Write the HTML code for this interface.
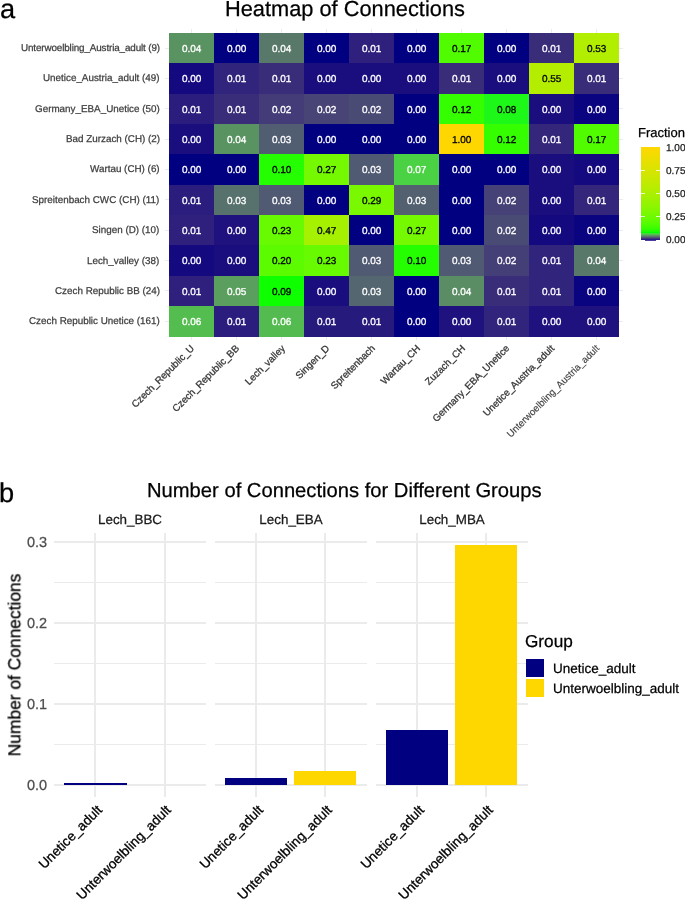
<!DOCTYPE html><html><head><meta charset="utf-8"><style>
*{margin:0;padding:0;box-sizing:border-box}
html,body{width:685px;height:899px;background:#fff;overflow:hidden;position:relative;font-family:"Liberation Sans", sans-serif;text-rendering:geometricPrecision}
.t{position:absolute;white-space:nowrap;line-height:1;will-change:transform;-webkit-text-stroke:0.25px currentColor}
.g{position:absolute;background:#ebebeb}
.r{position:absolute;white-space:nowrap;line-height:1;-webkit-text-stroke:0.3px currentColor;transform-origin:100% 0;transform:rotate(-45deg);filter:grayscale(1)}
.c{position:absolute;display:flex;align-items:center;justify-content:center;font-size:10px;color:#fff;will-change:transform;-webkit-text-stroke:0.3px currentColor;padding-top:2px}
</style></head><body>
<div class="t" style="left:0.10px;top:-5px;font-size:27.20px;color:#000;">a</div>
<div class="t" style="left:224.60px;top:-2px;font-size:21.80px;color:#000;">Heatmap of Connections</div>
<div class="g" style="left:191.00px;top:29.00px;width:1px;height:311.00px"></div>
<div class="g" style="left:236.00px;top:29.00px;width:1px;height:311.00px"></div>
<div class="g" style="left:281.00px;top:29.00px;width:1px;height:311.00px"></div>
<div class="g" style="left:326.00px;top:29.00px;width:1px;height:311.00px"></div>
<div class="g" style="left:371.00px;top:29.00px;width:1px;height:311.00px"></div>
<div class="g" style="left:416.00px;top:29.00px;width:1px;height:311.00px"></div>
<div class="g" style="left:461.00px;top:29.00px;width:1px;height:311.00px"></div>
<div class="g" style="left:506.00px;top:29.00px;width:1px;height:311.00px"></div>
<div class="g" style="left:551.00px;top:29.00px;width:1px;height:311.00px"></div>
<div class="g" style="left:596.00px;top:29.00px;width:1px;height:311.00px"></div>
<div class="g" style="left:164.50px;top:47.67px;width:458.50px;height:1px"></div>
<div class="g" style="left:164.50px;top:78.03px;width:458.50px;height:1px"></div>
<div class="g" style="left:164.50px;top:108.38px;width:458.50px;height:1px"></div>
<div class="g" style="left:164.50px;top:138.73px;width:458.50px;height:1px"></div>
<div class="g" style="left:164.50px;top:169.08px;width:458.50px;height:1px"></div>
<div class="g" style="left:164.50px;top:199.43px;width:458.50px;height:1px"></div>
<div class="g" style="left:164.50px;top:229.78px;width:458.50px;height:1px"></div>
<div class="g" style="left:164.50px;top:260.12px;width:458.50px;height:1px"></div>
<div class="g" style="left:164.50px;top:290.48px;width:458.50px;height:1px"></div>
<div class="g" style="left:164.50px;top:320.82px;width:458.50px;height:1px"></div>
<div class="c" style="left:169.00px;top:33.00px;width:45.30px;height:30.65px;background:#5a9362;color:#fff">0.04</div>
<div class="c" style="left:214.00px;top:33.00px;width:45.30px;height:30.65px;background:#000080;color:#fff">0.00</div>
<div class="c" style="left:259.00px;top:33.00px;width:45.30px;height:30.65px;background:#58786a;color:#fff">0.04</div>
<div class="c" style="left:304.00px;top:33.00px;width:45.30px;height:30.65px;background:#000080;color:#fff">0.00</div>
<div class="c" style="left:349.00px;top:33.00px;width:45.30px;height:30.65px;background:#2e207c;color:#fff">0.01</div>
<div class="c" style="left:394.00px;top:33.00px;width:45.30px;height:30.65px;background:#000080;color:#fff">0.00</div>
<div class="c" style="left:439.00px;top:33.00px;width:45.30px;height:30.65px;background:#51fc00;color:#000">0.17</div>
<div class="c" style="left:484.00px;top:33.00px;width:45.30px;height:30.65px;background:#000080;color:#fff">0.00</div>
<div class="c" style="left:529.00px;top:33.00px;width:45.30px;height:30.65px;background:#392d7a;color:#fff">0.01</div>
<div class="c" style="left:574.00px;top:33.00px;width:45.30px;height:30.65px;background:#b1ee00;color:#000">0.53</div>
<div class="c" style="left:169.00px;top:63.35px;width:45.30px;height:30.65px;background:#14097f;color:#fff">0.00</div>
<div class="c" style="left:214.00px;top:63.35px;width:45.30px;height:30.65px;background:#31247c;color:#fff">0.01</div>
<div class="c" style="left:259.00px;top:63.35px;width:45.30px;height:30.65px;background:#392d7a;color:#fff">0.01</div>
<div class="c" style="left:304.00px;top:63.35px;width:45.30px;height:30.65px;background:#1a0e7f;color:#fff">0.00</div>
<div class="c" style="left:349.00px;top:63.35px;width:45.30px;height:30.65px;background:#1a0e7f;color:#fff">0.00</div>
<div class="c" style="left:394.00px;top:63.35px;width:45.30px;height:30.65px;background:#1a0e7f;color:#fff">0.00</div>
<div class="c" style="left:439.00px;top:63.35px;width:45.30px;height:30.65px;background:#392d7a;color:#fff">0.01</div>
<div class="c" style="left:484.00px;top:63.35px;width:45.30px;height:30.65px;background:#1a0e7f;color:#fff">0.00</div>
<div class="c" style="left:529.00px;top:63.35px;width:45.30px;height:30.65px;background:#b5ed00;color:#000">0.55</div>
<div class="c" style="left:574.00px;top:63.35px;width:45.30px;height:30.65px;background:#392d7a;color:#fff">0.01</div>
<div class="c" style="left:169.00px;top:93.70px;width:45.30px;height:30.65px;background:#2b1d7d;color:#fff">0.01</div>
<div class="c" style="left:214.00px;top:93.70px;width:45.30px;height:30.65px;background:#392d7a;color:#fff">0.01</div>
<div class="c" style="left:259.00px;top:93.70px;width:45.30px;height:30.65px;background:#433c78;color:#fff">0.02</div>
<div class="c" style="left:304.00px;top:93.70px;width:45.30px;height:30.65px;background:#484576;color:#fff">0.02</div>
<div class="c" style="left:349.00px;top:93.70px;width:45.30px;height:30.65px;background:#4a4b75;color:#fff">0.02</div>
<div class="c" style="left:394.00px;top:93.70px;width:45.30px;height:30.65px;background:#000080;color:#fff">0.00</div>
<div class="c" style="left:439.00px;top:93.70px;width:45.30px;height:30.65px;background:#35fe00;color:#000">0.12</div>
<div class="c" style="left:484.00px;top:93.70px;width:45.30px;height:30.65px;background:#1ef818;color:#000">0.08</div>
<div class="c" style="left:529.00px;top:93.70px;width:45.30px;height:30.65px;background:#1a0e7f;color:#fff">0.00</div>
<div class="c" style="left:574.00px;top:93.70px;width:45.30px;height:30.65px;background:#0b0480;color:#fff">0.00</div>
<div class="c" style="left:169.00px;top:124.05px;width:45.30px;height:30.65px;background:#1a0e7f;color:#fff">0.00</div>
<div class="c" style="left:214.00px;top:124.05px;width:45.30px;height:30.65px;background:#5a9362;color:#fff">0.04</div>
<div class="c" style="left:259.00px;top:124.05px;width:45.30px;height:30.65px;background:#515d71;color:#fff">0.03</div>
<div class="c" style="left:304.00px;top:124.05px;width:45.30px;height:30.65px;background:#000080;color:#fff">0.00</div>
<div class="c" style="left:349.00px;top:124.05px;width:45.30px;height:30.65px;background:#000080;color:#fff">0.00</div>
<div class="c" style="left:394.00px;top:124.05px;width:45.30px;height:30.65px;background:#000080;color:#fff">0.00</div>
<div class="c" style="left:439.00px;top:124.05px;width:45.30px;height:30.65px;background:#ffd700;color:#000">1.00</div>
<div class="c" style="left:484.00px;top:124.05px;width:45.30px;height:30.65px;background:#35fe00;color:#000">0.12</div>
<div class="c" style="left:529.00px;top:124.05px;width:45.30px;height:30.65px;background:#34277b;color:#fff">0.01</div>
<div class="c" style="left:574.00px;top:124.05px;width:45.30px;height:30.65px;background:#51fc00;color:#000">0.17</div>
<div class="c" style="left:169.00px;top:154.40px;width:45.30px;height:30.65px;background:#000080;color:#fff">0.00</div>
<div class="c" style="left:214.00px;top:154.40px;width:45.30px;height:30.65px;background:#000080;color:#fff">0.00</div>
<div class="c" style="left:259.00px;top:154.40px;width:45.30px;height:30.65px;background:#24fe00;color:#000">0.10</div>
<div class="c" style="left:304.00px;top:154.40px;width:45.30px;height:30.65px;background:#74f900;color:#000">0.27</div>
<div class="c" style="left:349.00px;top:154.40px;width:45.30px;height:30.65px;background:#505a72;color:#fff">0.03</div>
<div class="c" style="left:394.00px;top:154.40px;width:45.30px;height:30.65px;background:#4bd144;color:#fff">0.07</div>
<div class="c" style="left:439.00px;top:154.40px;width:45.30px;height:30.65px;background:#000080;color:#fff">0.00</div>
<div class="c" style="left:484.00px;top:154.40px;width:45.30px;height:30.65px;background:#000080;color:#fff">0.00</div>
<div class="c" style="left:529.00px;top:154.40px;width:45.30px;height:30.65px;background:#1a0e7f;color:#fff">0.00</div>
<div class="c" style="left:574.00px;top:154.40px;width:45.30px;height:30.65px;background:#14097f;color:#fff">0.00</div>
<div class="c" style="left:169.00px;top:184.75px;width:45.30px;height:30.65px;background:#2b1d7d;color:#fff">0.01</div>
<div class="c" style="left:214.00px;top:184.75px;width:45.30px;height:30.65px;background:#57726c;color:#fff">0.03</div>
<div class="c" style="left:259.00px;top:184.75px;width:45.30px;height:30.65px;background:#505a72;color:#fff">0.03</div>
<div class="c" style="left:304.00px;top:184.75px;width:45.30px;height:30.65px;background:#000080;color:#fff">0.00</div>
<div class="c" style="left:349.00px;top:184.75px;width:45.30px;height:30.65px;background:#7af800;color:#000">0.29</div>
<div class="c" style="left:394.00px;top:184.75px;width:45.30px;height:30.65px;background:#526070;color:#fff">0.03</div>
<div class="c" style="left:439.00px;top:184.75px;width:45.30px;height:30.65px;background:#000080;color:#fff">0.00</div>
<div class="c" style="left:484.00px;top:184.75px;width:45.30px;height:30.65px;background:#464277;color:#fff">0.02</div>
<div class="c" style="left:529.00px;top:184.75px;width:45.30px;height:30.65px;background:#1a0e7f;color:#fff">0.00</div>
<div class="c" style="left:574.00px;top:184.75px;width:45.30px;height:30.65px;background:#34277b;color:#fff">0.01</div>
<div class="c" style="left:169.00px;top:215.10px;width:45.30px;height:30.65px;background:#2e207c;color:#fff">0.01</div>
<div class="c" style="left:214.00px;top:215.10px;width:45.30px;height:30.65px;background:#1f127e;color:#fff">0.00</div>
<div class="c" style="left:259.00px;top:215.10px;width:45.30px;height:30.65px;background:#68fa00;color:#000">0.23</div>
<div class="c" style="left:304.00px;top:215.10px;width:45.30px;height:30.65px;background:#a5f100;color:#000">0.47</div>
<div class="c" style="left:349.00px;top:215.10px;width:45.30px;height:30.65px;background:#000080;color:#fff">0.00</div>
<div class="c" style="left:394.00px;top:215.10px;width:45.30px;height:30.65px;background:#74f900;color:#000">0.27</div>
<div class="c" style="left:439.00px;top:215.10px;width:45.30px;height:30.65px;background:#000080;color:#fff">0.00</div>
<div class="c" style="left:484.00px;top:215.10px;width:45.30px;height:30.65px;background:#4a4b75;color:#fff">0.02</div>
<div class="c" style="left:529.00px;top:215.10px;width:45.30px;height:30.65px;background:#14097f;color:#fff">0.00</div>
<div class="c" style="left:574.00px;top:215.10px;width:45.30px;height:30.65px;background:#0b0480;color:#fff">0.00</div>
<div class="c" style="left:169.00px;top:245.45px;width:45.30px;height:30.65px;background:#14097f;color:#fff">0.00</div>
<div class="c" style="left:214.00px;top:245.45px;width:45.30px;height:30.65px;background:#1a0e7f;color:#fff">0.00</div>
<div class="c" style="left:259.00px;top:245.45px;width:45.30px;height:30.65px;background:#5dfb00;color:#000">0.20</div>
<div class="c" style="left:304.00px;top:245.45px;width:45.30px;height:30.65px;background:#68fa00;color:#000">0.23</div>
<div class="c" style="left:349.00px;top:245.45px;width:45.30px;height:30.65px;background:#505a72;color:#fff">0.03</div>
<div class="c" style="left:394.00px;top:245.45px;width:45.30px;height:30.65px;background:#24fe00;color:#000">0.10</div>
<div class="c" style="left:439.00px;top:245.45px;width:45.30px;height:30.65px;background:#505a72;color:#fff">0.03</div>
<div class="c" style="left:484.00px;top:245.45px;width:45.30px;height:30.65px;background:#443f77;color:#fff">0.02</div>
<div class="c" style="left:529.00px;top:245.45px;width:45.30px;height:30.65px;background:#31247c;color:#fff">0.01</div>
<div class="c" style="left:574.00px;top:245.45px;width:45.30px;height:30.65px;background:#58786a;color:#fff">0.04</div>
<div class="c" style="left:169.00px;top:275.80px;width:45.30px;height:30.65px;background:#2e207c;color:#fff">0.01</div>
<div class="c" style="left:214.00px;top:275.80px;width:45.30px;height:30.65px;background:#5a9f5d;color:#fff">0.05</div>
<div class="c" style="left:259.00px;top:275.80px;width:45.30px;height:30.65px;background:#0eff00;color:#000">0.09</div>
<div class="c" style="left:304.00px;top:275.80px;width:45.30px;height:30.65px;background:#1a0e7f;color:#fff">0.00</div>
<div class="c" style="left:349.00px;top:275.80px;width:45.30px;height:30.65px;background:#54666f;color:#fff">0.03</div>
<div class="c" style="left:394.00px;top:275.80px;width:45.30px;height:30.65px;background:#000080;color:#fff">0.00</div>
<div class="c" style="left:439.00px;top:275.80px;width:45.30px;height:30.65px;background:#5a8d64;color:#fff">0.04</div>
<div class="c" style="left:484.00px;top:275.80px;width:45.30px;height:30.65px;background:#392d7a;color:#fff">0.01</div>
<div class="c" style="left:529.00px;top:275.80px;width:45.30px;height:30.65px;background:#31247c;color:#fff">0.01</div>
<div class="c" style="left:574.00px;top:275.80px;width:45.30px;height:30.65px;background:#0b0480;color:#fff">0.00</div>
<div class="c" style="left:169.00px;top:306.15px;width:45.30px;height:30.65px;background:#53be4f;color:#fff">0.06</div>
<div class="c" style="left:214.00px;top:306.15px;width:45.30px;height:30.65px;background:#2b1d7d;color:#fff">0.01</div>
<div class="c" style="left:259.00px;top:306.15px;width:45.30px;height:30.65px;background:#54bb51;color:#fff">0.06</div>
<div class="c" style="left:304.00px;top:306.15px;width:45.30px;height:30.65px;background:#271a7d;color:#fff">0.01</div>
<div class="c" style="left:349.00px;top:306.15px;width:45.30px;height:30.65px;background:#271a7d;color:#fff">0.01</div>
<div class="c" style="left:394.00px;top:306.15px;width:45.30px;height:30.65px;background:#000080;color:#fff">0.00</div>
<div class="c" style="left:439.00px;top:306.15px;width:45.30px;height:30.65px;background:#1f127e;color:#fff">0.00</div>
<div class="c" style="left:484.00px;top:306.15px;width:45.30px;height:30.65px;background:#31247c;color:#fff">0.01</div>
<div class="c" style="left:529.00px;top:306.15px;width:45.30px;height:30.65px;background:#1f127e;color:#fff">0.00</div>
<div class="c" style="left:574.00px;top:306.15px;width:45.30px;height:30.65px;background:#1f127e;color:#fff">0.00</div>
<div class="t" style="right:525.40px;top:44px;font-size:9.85px;color:#3d3d3d;letter-spacing:-0.12px">Unterwoelbling_Austria_adult (9)</div>
<div class="t" style="right:525.40px;top:74px;font-size:9.85px;color:#3d3d3d;">Unetice_Austria_adult (49)</div>
<div class="t" style="right:525.40px;top:105px;font-size:9.85px;color:#3d3d3d;">Germany_EBA_Unetice (50)</div>
<div class="t" style="right:525.40px;top:135px;font-size:9.85px;color:#3d3d3d;">Bad Zurzach (CH) (2)</div>
<div class="t" style="right:525.40px;top:165px;font-size:9.85px;color:#3d3d3d;">Wartau (CH) (6)</div>
<div class="t" style="right:525.40px;top:196px;font-size:9.85px;color:#3d3d3d;">Spreitenbach CWC (CH) (11)</div>
<div class="t" style="right:525.40px;top:226px;font-size:9.85px;color:#3d3d3d;">Singen (D) (10)</div>
<div class="t" style="right:525.40px;top:257px;font-size:9.85px;color:#3d3d3d;">Lech_valley (38)</div>
<div class="t" style="right:525.40px;top:287px;font-size:9.85px;color:#3d3d3d;">Czech Republic BB (24)</div>
<div class="t" style="right:525.40px;top:317px;font-size:9.85px;color:#3d3d3d;">Czech Republic Unetice (161)</div>
<div class="r" style="right:494.70px;top:344.40px;font-size:9.80px;color:#383838;">Czech_Republic_U</div>
<div class="r" style="right:449.70px;top:344.40px;font-size:9.80px;color:#383838;">Czech_Republic_BB</div>
<div class="r" style="right:404.70px;top:344.40px;font-size:9.80px;color:#383838;">Lech_valley</div>
<div class="r" style="right:359.70px;top:344.40px;font-size:9.80px;color:#383838;">Singen_D</div>
<div class="r" style="right:314.70px;top:344.40px;font-size:9.80px;color:#383838;">Spreitenbach</div>
<div class="r" style="right:269.70px;top:344.40px;font-size:9.80px;color:#383838;">Wartau_CH</div>
<div class="r" style="right:224.70px;top:344.40px;font-size:9.80px;color:#383838;">Zuzach_CH</div>
<div class="r" style="right:179.70px;top:344.40px;font-size:9.80px;color:#383838;">Germany_EBA_Unetice</div>
<div class="r" style="right:134.70px;top:344.40px;font-size:9.80px;color:#383838;">Unetice_Austria_adult</div>
<div class="r" style="right:89.70px;top:344.40px;font-size:9.70px;color:#444444;-webkit-text-stroke:0.15px currentColor">Unterwoelbling_Austria_adult</div>
<div class="t" style="left:638.20px;top:126px;font-size:13.00px;color:#000;">Fraction</div>
<div style="position:absolute;left:641px;top:147.3px;width:19px;height:92.4px;background:linear-gradient(to top,#000080 0.0%,#34277b 1.0%,#484576 2.0%,#536370 3.0%,#598168 4.0%,#5a9f5d 5.0%,#53be4f 6.0%,#42de3a 7.0%,#00ff00 8.0%,#18ff00 9.0%,#24fe00 10.0%,#2dfe00 11.0%,#35fe00 12.0%,#3cfd00 13.0%,#42fd00 14.0%,#47fd00 15.0%,#4cfc00 16.0%,#51fc00 17.0%,#55fc00 18.0%,#59fb00 19.0%,#5dfb00 20.0%,#61fb00 21.0%,#64fa00 22.0%,#68fa00 23.0%,#6bfa00 24.0%,#6ef900 25.0%,#71f900 26.0%,#74f900 27.0%,#77f800 28.0%,#7af800 29.0%,#7df700 30.0%,#80f700 31.0%,#82f700 32.0%,#85f600 33.0%,#87f600 34.0%,#8af600 35.0%,#8cf500 36.0%,#8ff500 37.0%,#91f400 38.0%,#94f400 39.0%,#96f400 40.0%,#98f300 41.0%,#9af300 42.0%,#9df200 43.0%,#9ff200 44.0%,#a1f200 45.0%,#a3f100 46.0%,#a5f100 47.0%,#a7f000 48.0%,#a9f000 49.0%,#abf000 50.0%,#adef00 51.0%,#afef00 52.0%,#b1ee00 53.0%,#b3ee00 54.0%,#b5ed00 55.0%,#b7ed00 56.0%,#b9ed00 57.0%,#bbec00 58.0%,#bdec00 59.0%,#beeb00 60.0%,#c0eb00 61.0%,#c2ea00 62.0%,#c4ea00 63.0%,#c6e900 64.0%,#c7e900 65.0%,#c9e900 66.0%,#cbe800 67.0%,#cde800 68.0%,#cee700 69.0%,#d0e700 70.0%,#d2e600 71.0%,#d3e600 72.0%,#d5e500 73.0%,#d7e500 74.0%,#d8e400 75.0%,#dae400 76.0%,#dce300 77.0%,#dde300 78.0%,#dfe200 79.0%,#e1e200 80.0%,#e2e100 81.0%,#e4e100 82.0%,#e5e000 83.0%,#e7e000 84.0%,#e8df00 85.0%,#eadf00 86.0%,#ebde00 87.0%,#edde00 88.0%,#efdd00 89.0%,#f0dd00 90.0%,#f2dc00 91.0%,#f3dc00 92.0%,#f5db00 93.0%,#f6da00 94.0%,#f8da00 95.0%,#f9d900 96.0%,#fbd900 97.0%,#fcd800 98.0%,#fed800 99.0%,#ffd700 100.0%)"></div>
<div style="position:absolute;left:641px;top:238.7px;width:19px;height:1px;background:#2c1c88"></div>
<div style="position:absolute;left:644.8px;top:239.5px;width:11.2px;height:1.5px;background:#2c1c90;opacity:0.85"></div>
<div class="t" style="left:665.90px;top:236px;font-size:10.00px;color:#1a1a1a;">0.00</div>
<div style="position:absolute;left:641px;top:216.10px;width:4px;height:1px;background:rgba(255,255,255,0.8)"></div>
<div style="position:absolute;left:656px;top:216.10px;width:4px;height:1px;background:rgba(255,255,255,0.8)"></div>
<div class="t" style="left:665.90px;top:213px;font-size:10.00px;color:#1a1a1a;">0.25</div>
<div style="position:absolute;left:641px;top:193.00px;width:4px;height:1px;background:rgba(255,255,255,0.8)"></div>
<div style="position:absolute;left:656px;top:193.00px;width:4px;height:1px;background:rgba(255,255,255,0.8)"></div>
<div class="t" style="left:665.90px;top:190px;font-size:10.00px;color:#1a1a1a;">0.50</div>
<div style="position:absolute;left:641px;top:169.90px;width:4px;height:1px;background:rgba(255,255,255,0.8)"></div>
<div style="position:absolute;left:656px;top:169.90px;width:4px;height:1px;background:rgba(255,255,255,0.8)"></div>
<div class="t" style="left:665.90px;top:167px;font-size:10.00px;color:#1a1a1a;">0.75</div>
<div class="t" style="left:665.90px;top:144px;font-size:10.00px;color:#1a1a1a;">1.00</div>
<div class="t" style="left:-1.00px;top:479px;font-size:27.20px;color:#000;">b</div>
<div class="t" style="left:147.00px;top:481px;font-size:20.20px;color:#000;">Number of Connections for Different Groups</div>
<div class="g" style="left:54.00px;top:743.75px;width:152.00px;height:1px"></div>
<div class="g" style="left:54.00px;top:662.85px;width:152.00px;height:1px"></div>
<div class="g" style="left:54.00px;top:581.95px;width:152.00px;height:1px"></div>
<div class="g" style="left:54.00px;top:783.70px;width:152.00px;height:2px"></div>
<div class="g" style="left:54.00px;top:702.80px;width:152.00px;height:2px"></div>
<div class="g" style="left:54.00px;top:621.90px;width:152.00px;height:2px"></div>
<div class="g" style="left:54.00px;top:541.00px;width:152.00px;height:2px"></div>
<div class="g" style="left:94.45px;top:533.00px;width:2px;height:263.70px"></div>
<div class="g" style="left:163.55px;top:533.00px;width:2px;height:263.70px"></div>
<div style="position:absolute;left:64.36px;top:783.00px;width:62.18px;height:1.70px;background:#000080"></div>
<div class="t" style="left:130.00px;top:513px;font-size:13.40px;color:#1a1a1a;width:0;display:flex;justify-content:center;"><span>Lech_BBC</span></div>
<div class="r" style="right:589.85px;top:803.40px;font-size:13.6px;color:#000">Unetice_adult</div>
<div class="r" style="right:520.75px;top:803.40px;font-size:13.6px;color:#000">Unterwoelbling_adult</div>
<div class="g" style="left:214.80px;top:743.75px;width:152.00px;height:1px"></div>
<div class="g" style="left:214.80px;top:662.85px;width:152.00px;height:1px"></div>
<div class="g" style="left:214.80px;top:581.95px;width:152.00px;height:1px"></div>
<div class="g" style="left:214.80px;top:783.70px;width:152.00px;height:2px"></div>
<div class="g" style="left:214.80px;top:702.80px;width:152.00px;height:2px"></div>
<div class="g" style="left:214.80px;top:621.90px;width:152.00px;height:2px"></div>
<div class="g" style="left:214.80px;top:541.00px;width:152.00px;height:2px"></div>
<div class="g" style="left:255.25px;top:533.00px;width:2px;height:263.70px"></div>
<div class="g" style="left:324.35px;top:533.00px;width:2px;height:263.70px"></div>
<div style="position:absolute;left:225.16px;top:777.99px;width:62.18px;height:6.71px;background:#000080"></div>
<div style="position:absolute;left:294.25px;top:770.70px;width:62.18px;height:14.00px;background:#FFD700"></div>
<div class="t" style="left:290.80px;top:513px;font-size:13.40px;color:#1a1a1a;width:0;display:flex;justify-content:center;"><span>Lech_EBA</span></div>
<div class="r" style="right:429.05px;top:803.40px;font-size:13.6px;color:#000">Unetice_adult</div>
<div class="r" style="right:359.95px;top:803.40px;font-size:13.6px;color:#000">Unterwoelbling_adult</div>
<div class="g" style="left:375.70px;top:743.75px;width:152.00px;height:1px"></div>
<div class="g" style="left:375.70px;top:662.85px;width:152.00px;height:1px"></div>
<div class="g" style="left:375.70px;top:581.95px;width:152.00px;height:1px"></div>
<div class="g" style="left:375.70px;top:783.70px;width:152.00px;height:2px"></div>
<div class="g" style="left:375.70px;top:702.80px;width:152.00px;height:2px"></div>
<div class="g" style="left:375.70px;top:621.90px;width:152.00px;height:2px"></div>
<div class="g" style="left:375.70px;top:541.00px;width:152.00px;height:2px"></div>
<div class="g" style="left:416.15px;top:533.00px;width:2px;height:263.70px"></div>
<div class="g" style="left:485.25px;top:533.00px;width:2px;height:263.70px"></div>
<div style="position:absolute;left:386.06px;top:729.53px;width:62.18px;height:55.17px;background:#000080"></div>
<div style="position:absolute;left:455.15px;top:544.99px;width:62.18px;height:239.71px;background:#FFD700"></div>
<div class="t" style="left:451.70px;top:513px;font-size:13.40px;color:#1a1a1a;width:0;display:flex;justify-content:center;"><span>Lech_MBA</span></div>
<div class="r" style="right:268.15px;top:803.40px;font-size:13.6px;color:#000">Unetice_adult</div>
<div class="r" style="right:199.05px;top:803.40px;font-size:13.6px;color:#000">Unterwoelbling_adult</div>
<div class="t" style="right:638.20px;top:779px;font-size:14.50px;color:#4d4d4d;">0.0</div>
<div class="t" style="right:638.20px;top:698px;font-size:14.50px;color:#4d4d4d;">0.1</div>
<div class="t" style="right:638.20px;top:617px;font-size:14.50px;color:#4d4d4d;">0.2</div>
<div class="t" style="right:638.20px;top:536px;font-size:14.50px;color:#4d4d4d;">0.3</div>
<div class="t" style="left:14.50px;top:665.30px;font-size:17.4px;color:#000;width:0;height:0"><div style="position:absolute;left:0;top:0;transform:translate(-50%,-50%) rotate(-90deg);white-space:nowrap;line-height:1">Number of Connections</div></div>
<div class="t" style="left:524.80px;top:633px;font-size:17.20px;color:#000;">Group</div>
<div style="position:absolute;left:526px;top:659px;width:18px;height:18px;background:#000080"></div>
<div style="position:absolute;left:526px;top:679px;width:18px;height:18px;background:#FFD700"></div>
<div class="t" style="left:553.00px;top:662px;font-size:13.50px;color:#000;">Unetice_adult</div>
<div class="t" style="left:553.00px;top:682px;font-size:13.50px;color:#000;">Unterwoelbling_adult</div>
</body></html>
